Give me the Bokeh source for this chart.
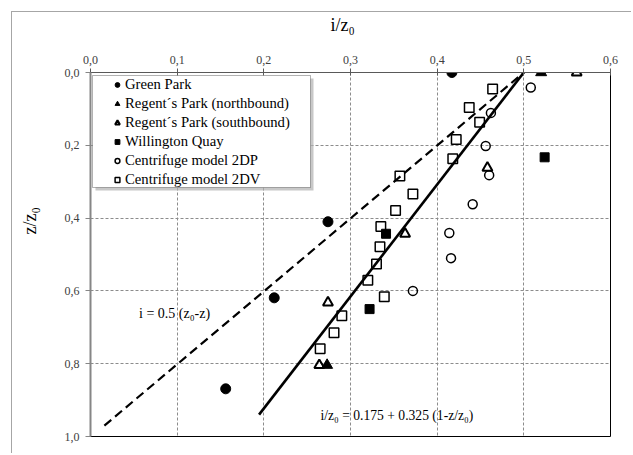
from bokeh.plotting import figure
from bokeh.models import (Range1d, FixedTicker, Label, Legend, LegendItem,
                          BoxAnnotation, Title)
from bokeh.embed import file_html
from bokeh.resources import INLINE

# ---------------- data ----------------
x_ticks = [0.0, 0.1, 0.2, 0.3, 0.4, 0.5, 0.6]
x_tick_labels = ["0,0", "0,1", "0,2", "0,3", "0,4", "0,5", "0,6"]
y_ticks = [0.0, 0.2, 0.4, 0.6, 0.8, 1.0]
y_tick_labels = ["0,0", "0,2", "0,4", "0,6", "0,8", "1,0"]

green_i = [0.417, 0.274, 0.212, 0.156]
green_z = [0.0, 0.410, 0.619, 0.869]

regn_i = [0.520, 0.273]
regn_z = [0.0, 0.804]

regs_i = [0.561, 0.458, 0.363, 0.274, 0.264]
regs_z = [0.0, 0.262, 0.443, 0.632, 0.804]

will_i = [0.524, 0.341, 0.322]
will_z = [0.233, 0.443, 0.650]

dp_i = [0.508, 0.462, 0.456, 0.460, 0.441, 0.414, 0.416, 0.372]
dp_z = [0.041, 0.111, 0.202, 0.282, 0.362, 0.441, 0.510, 0.600]

dv_i = [0.464, 0.437, 0.449, 0.422, 0.418, 0.357, 0.372, 0.352, 0.335, 0.334,
        0.330, 0.320, 0.339, 0.290, 0.281, 0.265]
dv_z = [0.045, 0.096, 0.137, 0.184, 0.237, 0.284, 0.334, 0.379, 0.423, 0.479,
        0.526, 0.571, 0.616, 0.668, 0.715, 0.759]

# fitted lines (end points)
dash_i = [0.016, 0.5]
dash_z = [0.97, 0.0]
solid_i = [0.1945, 0.5]
solid_z = [0.94, 0.0]

labels = ["Green Park", "Regent\u00b4s Park (northbound)", "Regent\u00b4s Park (southbound)",
          "Willington Quay", "Centrifuge model 2DP", "Centrifuge model 2DV"]

FONT = "Liberation Serif"

# ---------------- figure ----------------
p = figure(width=620, height=442, output_backend="svg", toolbar_location=None,
           x_range=Range1d(0.0, 0.6), y_range=Range1d(1.0, 0.0),
           x_axis_location="above", y_axis_location="left",
           min_border_left=78, min_border_right=22, min_border_top=58, min_border_bottom=18)
p.margin = (11, 0, 0, 11)
p.styles = {"border-left": "1px solid #a6a6a6", "border-top": "1px solid #a6a6a6"}
p.background_fill_color = "white"
p.border_fill_color = "white"
p.outline_line_color = "black"
p.outline_line_width = 1

# axes
xa = p.xaxis[0]
xa.ticker = FixedTicker(ticks=x_ticks)
xa.major_label_overrides = {t: l for t, l in zip(x_ticks, x_tick_labels)}
xa.major_label_text_font = FONT
xa.major_label_text_font_size = "12px"
xa.major_label_text_color = "#404040"
xa.axis_line_color = "#595959"
xa.major_tick_line_color = "#595959"
xa.major_tick_in = 3
xa.major_tick_out = 4
xa.major_label_standoff = 5
xa.minor_tick_line_color = None

ya = p.yaxis[0]
ya.ticker = FixedTicker(ticks=y_ticks)
ya.major_label_overrides = {t: l for t, l in zip(y_ticks, y_tick_labels)}
ya.major_label_text_font = FONT
ya.major_label_text_font_size = "12px"
ya.major_label_text_color = "#404040"
ya.axis_line_color = "#868686"
ya.axis_line_width = 2
ya.major_tick_line_color = "#868686"
ya.major_tick_in = 0
ya.major_tick_out = 5
ya.major_label_standoff = 6
ya.minor_tick_line_color = None

# grids
p.xgrid.ticker = FixedTicker(ticks=x_ticks[1:-1])
p.ygrid.ticker = FixedTicker(ticks=y_ticks[1:-1])
for g in (p.xgrid[0], p.ygrid[0]):
    g.grid_line_color = "#8c8c8c"
    g.grid_line_dash = "3 2"
    g.grid_line_width = 1

# lines
p.line(dash_i, dash_z, line_color="black", line_width=2.2, line_dash="9 5")
p.line(solid_i, solid_z, line_color="black", line_width=2.6)

# series
r1 = p.scatter(green_i, green_z, marker="circle", size=10, fill_color="black", line_color="black")
r2 = p.scatter(regn_i, regn_z, marker="triangle", size=11, fill_color="black", line_color="black")
r3 = p.scatter(regs_i, regs_z, marker="triangle", size=10, fill_alpha=0, line_color="black", line_width=2)
r4 = p.scatter(will_i, will_z, marker="square", size=9, fill_color="black", line_color="black")
r5 = p.scatter(dp_i, dp_z, marker="circle", size=9, fill_alpha=0, line_color="black", line_width=1.5)
r6 = p.scatter(dv_i, dv_z, marker="square", size=9.5, fill_alpha=0, line_color="black", line_width=1.5)

# legend box + shadow
p.add_layout(BoxAnnotation(left=5, right=223, top=358, bottom=246,
                           left_units="screen", right_units="screen",
                           top_units="screen", bottom_units="screen",
                           fill_color="#b0b0b0", fill_alpha=0.7, line_alpha=0))
p.add_layout(BoxAnnotation(left=2, right=220, top=361, bottom=249,
                           left_units="screen", right_units="screen",
                           top_units="screen", bottom_units="screen",
                           fill_color="white", fill_alpha=1, line_color="black", line_width=1))

legend = Legend(items=[LegendItem(label=l, renderers=[r]) for l, r in
                       zip(labels, [r1, r2, r3, r4, r5, r6])],
                location=(16, 243), border_line_alpha=0, background_fill_alpha=0,
                label_text_font=FONT, label_text_font_size="14.7px", label_text_color="black",
                glyph_width=12, glyph_height=17, label_height=17, spacing=2, padding=5,
                label_standoff=2, margin=0)
p.add_layout(legend)

# spacers + axis titles
p.add_layout(Title(text=" ", text_font_size="1px", standoff=15), "above")
p.add_layout(Title(text="i/z\u2080", align="left", offset=240, standoff=0,
                   vertical_align="bottom", text_font=FONT, text_font_size="18px",
                   text_font_style="normal", text_color="black"), "above")
p.add_layout(Title(text=" ", text_font_size="1px", standoff=19), "left")
p.add_layout(Title(text="z/z\u2080", align="left", offset=202, standoff=0,
                   vertical_align="bottom", text_font=FONT, text_font_size="18px",
                   text_font_style="normal", text_color="black"), "left")

# annotations
p.add_layout(Label(x=0.056, y=0.661, text="i = 0.5 (z\u2080-z)", text_font=FONT,
                   text_font_size="14px", text_align="left", text_baseline="middle",
                   text_color="black"))
p.add_layout(Label(x=0.2654, y=0.9427, text="i/z\u2080 = 0.175 + 0.325 (1-z/z\u2080)", text_font=FONT,
                   text_font_size="13.6px", text_align="left", text_baseline="middle",
                   text_color="black"))

open("out.html", "w").write(file_html(p, INLINE))
